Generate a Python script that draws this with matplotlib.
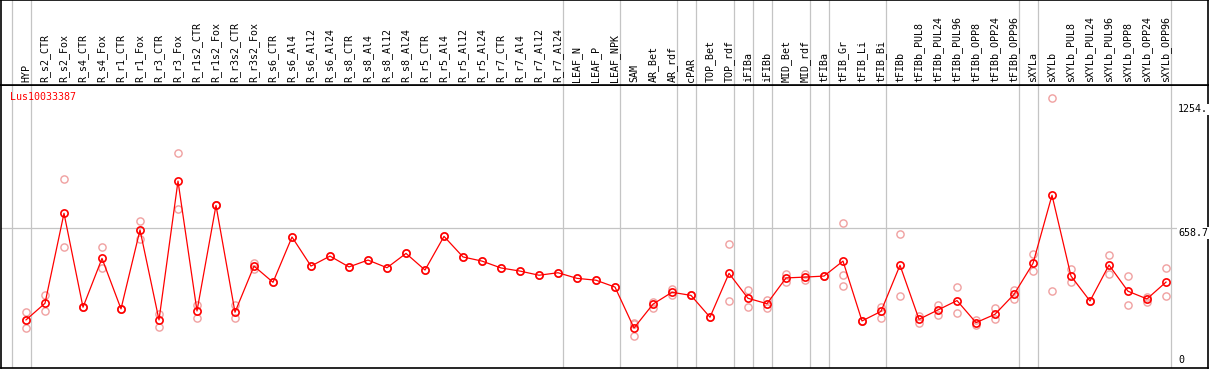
import matplotlib.pyplot as plt
import numpy as np

plt.rcParams["font.family"] = ["DejaVu Sans Mono"]

# sample names (columns)
samples = ["HYP",
           "R_s2_CTR", "R_s2_Fox", "R_s4_CTR", "R_s4_Fox", "R_r1_CTR", "R_r1_Fox",
           "R_r3_CTR", "R_r3_Fox", "R_r1s2_CTR", "R_r1s2_Fox", "R_r3s2_CTR", "R_r3s2_Fox",
           "R_s6_CTR", "R_s6_Al4", "R_s6_Al12", "R_s6_Al24",
           "R_s8_CTR", "R_s8_Al4", "R_s8_Al12", "R_s8_Al24",
           "R_r5_CTR", "R_r5_Al4", "R_r5_Al12", "R_r5_Al24",
           "R_r7_CTR", "R_r7_Al4", "R_r7_Al12", "R_r7_Al24",
           "LEAF_N", "LEAF_P", "LEAF_NPK",
           "SAM", "AR_Bet", "AR_rdf", "cPAR", "TOP_Bet", "TOP_rdf",
           "iFIBa", "iFIBb", "MID_Bet", "MID_rdf",
           "tFIBa", "tFIB_Gr", "tFIB_Li", "tFIB_Bi", "tFIBb",
           "tFIBb_PUL8", "tFIBb_PUL24", "tFIBb_PUL96",
           "tFIBb_OPP8", "tFIBb_OPP24", "tFIBb_OPP96",
           "sXYLa", "sXYLb",
           "sXYLb_PUL8", "sXYLb_PUL24", "sXYLb_PUL96",
           "sXYLb_OPP8", "sXYLb_OPP24", "sXYLb_OPP96"]

# mean expression
means = [217, 297, 730, 278, 513, 270, 650, 217, 885, 260, 768, 254, 476,
         398, 616, 476, 524, 472, 505, 468, 537, 457, 619, 520, 500,
         467, 452, 432, 444, 417, 408, 375,
         178, 293, 350, 335, 230, 441, 321, 295, 419, 423,
         428, 500, 212, 258, 480,
         220, 265, 310, 204, 244, 340,
         489, 817, 428, 308, 481, 355, 318, 399]

# replicate values
reps = [[254, 215, 177], [337, 261], [894, 566], [278, 278], [566, 465], [270, 270],
        [693, 606], [244, 181], [1019, 749], [289, 225], [768, 768], [289, 225],
        [492, 460],
        [398], [616], [476], [524], [472], [505], [468], [537], [457], [619], [520], [500],
        [467], [452], [432], [444], [417], [408], [375],
        [200, 140, 195], [305, 276], [364, 337], [335, 335], [230], [581, 306],
        [360, 279], [314, 273], [436, 401], [438, 409],
        [428, 428], [682, 432, 380], [212, 212], [281, 225], [630, 331],
        [236, 201], [289, 239], [374, 249], [217, 193], [273, 220], [361, 318],
        [534, 454], [1283, 356],
        [462, 399], [308, 308], [529, 438], [428, 287], [305, 329], [465, 332]]

# group separators sit after these column indices
separators = [-1, 0, 28, 31, 34, 35, 37, 38, 39, 41, 42, 45, 52, 53, 60]

y_ticks = [1254.0, 658.7, 0]
y_tick_labels = ["1254.", "658.7", "0"]
gene = "Lus10033387"

W, H = 1209, 370
fig = plt.figure(figsize=(W / 100, H / 100), dpi=100)

# pixel mapping: column i at 26 + 19 i ; value 0 at y=365, 0.2078 px/unit
x0, dx = 26.0, 19.0
y_zero, py = 365.0, 0.2078
xlim = ((1 - x0) / dx, (1208 - x0) / dx)

ax = fig.add_axes([1 / W, (H - 368) / H, 1207 / W, (368 - 85) / H])
hdr = fig.add_axes([1 / W, (H - 85) / H, 1207 / W, 85 / H])

ax.set_xlim(*xlim)
ax.set_ylim((y_zero - 368) / py, (y_zero - 85) / py)
hdr.set_xlim(*xlim)
hdr.set_ylim(0, 1)

for a in (ax, hdr):
    a.set_xticks([])
    a.set_yticks([])
    for s in a.spines.values():
        s.set_color("black")
        s.set_linewidth(1.2)

gray = "#c4c4c4"
for s in separators:
    ax.axvline(s + 0.25, color=gray, lw=0.9, zorder=1)
    hdr.axvline(s + 0.25, color=gray, lw=0.9, zorder=1)

ax.axhline(658.7, color=gray, lw=0.9, zorder=1)

x = np.arange(len(samples))
for i, r in enumerate(reps):
    ax.plot([i] * len(r), r, ls="none", marker="o", ms=5.2, mfc="none",
            mec="#f0a0a0", mew=1.0, zorder=2)

ax.plot(x, means, color="red", lw=0.9, marker="o", ms=5.2, mfc="none",
        mec="red", mew=1.2, zorder=3)

for v, t in zip(y_ticks, y_tick_labels):
    ax.text((1178 - x0) / dx, v, t, fontsize=7.2, ha="left",
            va="bottom" if v == 0 else "top",
            bbox=dict(fc="white", ec="none", pad=0.5), zorder=4)

for i, name in enumerate(samples):
    hdr.text(i, 0.03, name, rotation=90, ha="center", va="bottom", fontsize=7.2)

fig.text(10 / W, 1 - 97 / H, gene, color="red", fontsize=7.2, ha="left", va="center")

fig.savefig("out.png", dpi=100)
